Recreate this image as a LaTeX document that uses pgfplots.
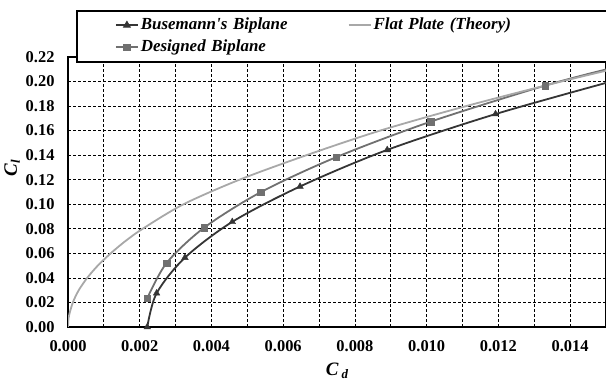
\documentclass[border=0pt]{standalone}
\usepackage{pgfplots}
\pgfplotsset{compat=1.18}
\usepackage{fontspec}
\setmainfont{Liberation Serif}[Ligatures=TeXOff]
\definecolor{cBuse}{HTML}{353535}
\definecolor{cDes}{HTML}{707070}
\definecolor{cFlat}{HTML}{A8A8A8}
\pgfplotstableread{
cd cl
0.00221 0.000
0.00247 0.0275
0.00326 0.0565
0.00458 0.0857
0.00647 0.1145
0.00890 0.1443
0.01192 0.1735
}\busemarks
\pgfplotstableread{
cd cl
0.00221 0.000
0.00247 0.0275
0.00326 0.0565
0.00458 0.0857
0.00647 0.1145
0.00890 0.1443
0.01192 0.1735
0.01520 0.2005
}\buseline
\pgfplotstableread{
cd cl
0.00221 0.0234
0.00275 0.0522
0.00379 0.0808
0.00537 0.1098
0.00748 0.1384
0.01011 0.1673
0.01330 0.1967
}\desmarks
\pgfplotstableread{
cd cl
0.00221 0.0234
0.00275 0.0522
0.00379 0.0808
0.00537 0.1098
0.00748 0.1384
0.01011 0.1673
0.01330 0.1967
0.01520 0.2113
}\desline
\pgfplotstableread{
cd cl
0.0 0.0
0.0000085 0.005
0.000034 0.01
0.000135 0.02
0.000300 0.03
0.000535 0.04
0.00083 0.05
0.00119 0.06
0.00160 0.07
0.00208 0.08
0.00322 0.10
0.00478 0.12
0.00665 0.14
0.00870 0.16
0.01110 0.18
0.01375 0.20
0.01590 0.215
}\flat
\begin{document}
\begin{tikzpicture}
\begin{axis}[
  at={(68bp,53bp)}, anchor=south west,
  scale only axis, width=538bp, height=270bp,
  xmin=0, xmax=0.015, ymin=0, ymax=0.22,
  xtick={0,0.002,0.004,0.006,0.008,0.010,0.012,0.014},
  minor xtick={0.001,0.003,0.005,0.007,0.009,0.011,0.013,0.015},
  ytick={0,0.02,0.04,0.06,0.08,0.10,0.12,0.14,0.16,0.18,0.20,0.22},
  grid=both,
  major grid style={black, line width=0.8bp, dash pattern=on 3bp off 2bp},
  minor grid style={black, line width=0.8bp, dash pattern=on 3bp off 2bp},
  major tick length=0pt, minor tick length=0pt,
  axis line style={line width=1.8bp},
  scaled x ticks=false, scaled y ticks=false,
  /pgf/number format/assume math mode=true,
  ticklabel style={font=\bfseries\fontsize{16.5}{18}\selectfont},
  xticklabel style={/pgf/number format/.cd, fixed, fixed zerofill, precision=3, /tikz/.cd, yshift=-10bp},
  yticklabel style={/pgf/number format/.cd, fixed, fixed zerofill, precision=2, /tikz/.cd, xshift=-10bp},
  xlabel={\bfseries\itshape C\,\raisebox{-0.35ex}{\fontsize{13}{13}\selectfont d}},
  ylabel={\bfseries\itshape C\raisebox{-0.35ex}{\fontsize{13}{13}\selectfont l}},
  x label style={font=\fontsize{19}{21}\selectfont, at={(axis description cs:0.5,0)}, anchor=center, yshift=-44bp},
  y label style={font=\fontsize{19}{21}\selectfont, at={(axis description cs:-0.104,0.589)}, anchor=center, rotate=0},
  legend columns=2,
  legend cell align=left,
  legend style={at={(axis description cs:0.0149,1.174)}, anchor=north west,
    draw=black, line width=2bp, fill=white, inner xsep=38bp, inner ysep=5bp,
    font=\bfseries\itshape\fontsize{17}{19}\selectfont,
    nodes={text width=205bp, inner ysep=1bp, text height=12.5bp, text depth=4bp},
    row sep=3.5bp},
]
\addlegendimage{legend image code/.code={\draw[cBuse, line width=1.8bp] (0bp,0bp) -- (22bp,0bp); \draw[cBuse, line width=1bp, mark=triangle*, mark size=3.8bp, mark repeat=2, mark phase=2] plot coordinates {(0bp,0bp) (11bp,0bp) (22bp,0bp)};}}
\addlegendentry{Busemann's Biplane}
\addlegendimage{legend image code/.code={\draw[cFlat, line width=1.8bp] (0bp,0bp) -- (22bp,0bp);}}
\addlegendentry{Flat Plate (Theory)}
\addlegendimage{legend image code/.code={\draw[cDes, line width=1.8bp] (0bp,0bp) -- (22bp,0bp); \draw[cDes, line width=1bp, mark=square*, mark size=3.2bp, mark repeat=2, mark phase=2] plot coordinates {(0bp,0bp) (11bp,0bp) (22bp,0bp)};}}
\addlegendentry{Designed Biplane}

\addplot[forget plot, cBuse, line width=1.8bp, smooth, tension=0.5, mark=none] table[x=cd, y=cl] {\buseline};
\addplot[forget plot, cDes, line width=1.8bp, smooth, tension=0.5, mark=none] table[x=cd, y=cl] {\desline};
\addplot[forget plot, cFlat, line width=1.8bp, smooth, mark=none] table[x=cd, y=cl] {\flat};
\addplot[forget plot, only marks, cBuse, mark=triangle*, mark size=3.8bp] table[x=cd, y=cl] {\busemarks};
\addplot[forget plot, only marks, cDes, mark=square*, mark size=3.2bp] table[x=cd, y=cl] {\desmarks};
\end{axis}
\pgfresetboundingbox
\path (0bp,0bp) rectangle (606bp,380bp);
\end{tikzpicture}
\end{document}
